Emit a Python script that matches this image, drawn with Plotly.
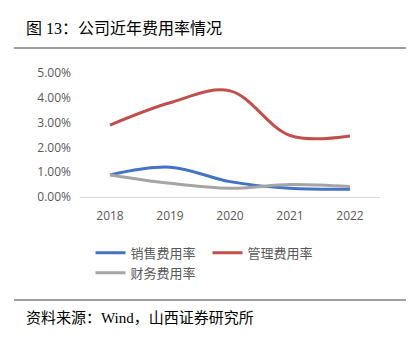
import plotly.graph_objects as go

years = ["2018", "2019", "2020", "2021", "2022"]
sales_rate = [0.89, 1.20, 0.62, 0.35, 0.31]
admin_rate = [2.90, 3.80, 4.28, 2.48, 2.46]
finance_rate = [0.89, 0.55, 0.35, 0.50, 0.42]
y_ticks = [0, 1, 2, 3, 4, 5]

series = [
    ("销售费用率", sales_rate, "#4472C4"),
    ("管理费用率", admin_rate, "#C0504D"),
    ("财务费用率", finance_rate, "#A5A5A5"),
]

fig = go.Figure()
for name, vals, color in series:
    fig.add_trace(go.Scatter(
        x=years, y=vals, name=name, mode="lines",
        line=dict(color=color, width=3, shape="spline", smoothing=1.0),
    ))

cjk = "Noto Sans CJK SC"
serif = "Liberation Serif, Noto Sans CJK SC"

fig.update_layout(
    width=419, height=341,
    margin=dict(l=80, r=39, t=73, b=144),
    paper_bgcolor="white", plot_bgcolor="white",
    showlegend=True,
    legend=dict(
        orientation="h", x=0.035, xanchor="left", y=-0.33, yanchor="top",
        font=dict(family=cjk, size=13, color="#595959"),
        entrywidth=72, tracegroupgap=0, itemwidth=30,
        bgcolor="rgba(0,0,0,0)",
    ),
    xaxis=dict(
        type="category", range=[-0.5, 4.5],
        showline=True, linecolor="#D9D9D9", linewidth=1,
        showgrid=False, ticks="", ticklabelstandoff=8,
        tickfont=dict(family="Open Sans, Liberation Sans", size=12, color="#595959"),
    ),
    yaxis=dict(
        range=[0, 5], tickvals=y_ticks,
        ticktext=[f"{v:.2f}%" for v in y_ticks],
        showgrid=False, zeroline=False, showline=False, ticks="",
        ticklabelstandoff=8,
        tickfont=dict(family="Open Sans, Liberation Sans", size=12, color="#595959"),
    ),
    annotations=[
        dict(text="图 13：公司近年费用率情况", xref="paper", yref="paper",
             x=-56/300, y=1 + (73-29)/124, xanchor="left", yanchor="middle",
             showarrow=False, font=dict(family=serif, size=16, color="#000000")),
        dict(text="资料来源：Wind，山西证券研究所", xref="paper", yref="paper",
             x=-56/300, y=-(318-197)/124, xanchor="left", yanchor="middle",
             showarrow=False, font=dict(family=serif, size=15, color="#000000")),
    ],
    shapes=[
        dict(type="line", xref="paper", yref="paper",
             x0=-66/300, x1=326/300, y0=1 + (73-48)/124, y1=1 + (73-48)/124,
             line=dict(color="#404040", width=1.2)),
        dict(type="line", xref="paper", yref="paper",
             x0=-66/300, x1=326/300, y0=-(300-197)/124, y1=-(300-197)/124,
             line=dict(color="#404040", width=1.2)),
    ],
)

fig.write_html("out.html")
